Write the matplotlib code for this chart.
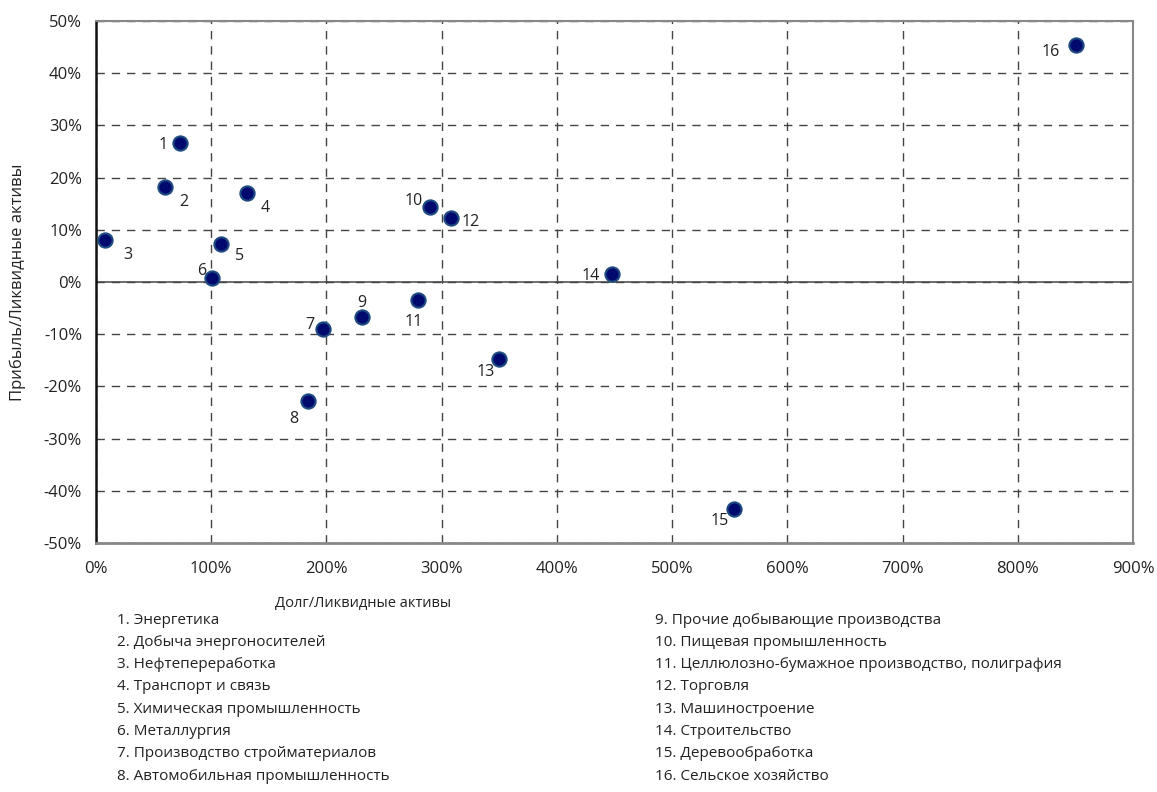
import matplotlib
matplotlib.use('Agg')
import matplotlib.pyplot as plt
from matplotlib.ticker import FuncFormatter

plt.rcParams['font.family'] = ['Open Sans', 'DejaVu Sans']

# долг / ликвидные активы, % ; прибыль / ликвидные активы, %
debt = [72.9, 60.0, 7.8, 131.0, 108.8, 100.9, 197.0, 184.0,
        231.0, 290.0, 279.5, 308.0, 350.0, 448.0, 553.8, 850.7]
profit = [26.6, 18.2, 8.1, 17.1, 7.2, 0.7, -9.0, -22.8,
          -6.7, 14.4, -3.4, 12.3, -14.8, 1.5, -43.5, 45.4]
names = ["Энергетика", "Добыча энергоносителей", "Нефтепереработка",
         "Транспорт и связь", "Химическая промышленность", "Металлургия",
         "Производство стройматериалов", "Автомобильная промышленность",
         "Прочие добывающие производства", "Пищевая промышленность",
         "Целлюлозно-бумажное производство, полиграфия", "Торговля",
         "Машиностроение", "Строительство", "Деревообработка",
         "Сельское хозяйство"]
# смещения подписей точек (в пунктах)
offs = [(-9, -1, 'right'), (10, -11, 'left'), (13, -11, 'left'), (10, -11, 'left'),
        (10, -8, 'left'), (-4, 5, 'right'), (-6, 3, 'right'), (-7, -13, 'right'),
        (0, 10, 'center'), (-5, 4, 'right'), (-3, -16, 'center'), (8, -3, 'left'),
        (-3, -9.5, 'right'), (-9, -1, 'right'), (-4, -8.5, 'right'), (-12, -5, 'right')]

fig = plt.figure(figsize=(11.57, 7.92), dpi=100)
ax = fig.add_axes([96/1157, 1-543/792, 1037/1157, 522/792])

ax.axhline(0, color='#555555', lw=1.2, zorder=1)
ax.scatter(debt, profit, s=105, c='#000a6e', edgecolors='#1d4a80', linewidths=1.5, zorder=3)
for i in range(len(debt)):
    dx, dy, ha = offs[i]
    ax.annotate(str(i+1), (debt[i], profit[i]), xytext=(dx, dy), textcoords='offset points',
                ha=ha, va='center', fontsize=11.5, color='#222222')

ax.set_xlim(0, 900)
ax.set_ylim(-50, 50)
ax.set_xticks(range(0, 901, 100))
ax.set_yticks(range(-50, 51, 10))
ax.xaxis.set_major_formatter(FuncFormatter(lambda v, p: '%d%%' % v))
ax.yaxis.set_major_formatter(FuncFormatter(lambda v, p: '%d%%' % v))
ax.grid(True, ls=(0, (6, 5)), color='#444444', lw=1)
ax.tick_params(length=0, labelsize=12, colors='#222222', pad=10)
ax.tick_params(axis='x', pad=13)
for s in ['top', 'right', 'bottom']:
    ax.spines[s].set_color('#888888')
    ax.spines[s].set_linewidth(1.5)
ax.spines['bottom'].set_linewidth(2)
ax.spines['left'].set_color('#111111')
ax.spines['left'].set_linewidth(1.8)

fig.text(363/1157, 1-603/792, 'Долг/Ликвидные активы', ha='center', va='center', fontsize=10.5, color='#222222')
fig.text(18/1157, 1-282/792, 'Прибыль/Ликвидные активы', ha='center', va='center',
         rotation=90, fontsize=12, color='#222222')

for i, n in enumerate(names):
    col = i // 8
    row = i % 8
    x = [117, 655][col] / 1157
    y = 1 - (620 + row * 22.3) / 792
    fig.text(x, y, '%d. %s' % (i+1, n), ha='left', va='center', fontsize=11, color='#222222')

fig.savefig('out.png', dpi=100)
